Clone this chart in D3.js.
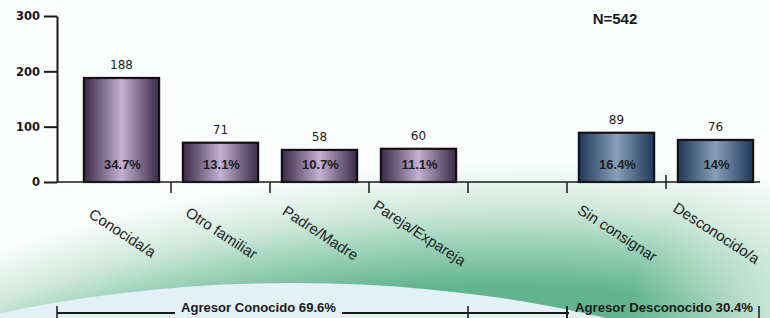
<!DOCTYPE html>
<html lang="es">
<head>
  <meta charset="UTF-8" />
  <title>Agresor</title>
  <script src="https://d3js.org/d3.v7.min.js"></script>
  <style>
    body { margin: 0; background: #fff; }
    svg { display: block; }
  </style>
</head>
<body>
<script type="text/javascript">

var categories = ["Conocida/a", "Otro familiar", "Padre/Madre", "Pareja/Expareja", "", "Sin consignar", "Desconocido/a"];
var counts = [188, 71, 58, 60, null, 89, 76];
var percents = ["34.7%", "13.1%", "10.7%", "11.1%", null, "16.4%", "14%"];
var groups = ["conocido", "conocido", "conocido", "conocido", null, "desconocido", "desconocido"];
var yTicks = [0, 100, 200, 300];
var totalLabel = "N=542";
var bracketLabels = ["Agresor Conocido 69.6%", "Agresor Desconocido 30.4%"];

var width = 770, height = 318;

var svg = d3.select("body").append("svg").attr("width", width).attr("height", height);
var defs = svg.append("defs");

// fondo: curva verde + arco celeste
var gGreen = defs.append("radialGradient").attr("id", "greenR")
  .attr("gradientUnits", "userSpaceOnUse")
  .attr("cx", 0).attr("cy", 0).attr("r", 1)
  .attr("gradientTransform", "translate(390,640) rotate(-7) scale(900,470)");
[[0, "#5aae8a"], [0.74, "#62b490"], [0.8, "#89c8ab"], [0.855, "#addac5"], [0.895, "#cbe6d9"], [0.95, "#e6f3ed"], [1, "#fbfdfc"]].forEach(function(s) {
  gGreen.append("stop").attr("offset", s[0]).attr("stop-color", s[1]);
});
var gFade = defs.append("radialGradient").attr("id", "fadeR")
  .attr("gradientUnits", "userSpaceOnUse")
  .attr("cx", 800).attr("cy", 335).attr("r", 175);
gFade.append("stop").attr("offset", 0).attr("stop-color", "#fff").attr("stop-opacity", 0.8);
gFade.append("stop").attr("offset", 1).attr("stop-color", "#fff").attr("stop-opacity", 0);

svg.append("rect").attr("width", width).attr("height", height).attr("fill", "url(#greenR)");
svg.append("rect").attr("width", width).attr("height", height).attr("fill", "url(#fadeR)");
svg.append("ellipse")
  .attr("cx", 293).attr("cy", 615).attr("rx", 700).attr("ry", 332)
  .attr("fill", "#e3f1f6");

// gradientes de barras
function barGradient(id, dark, light) {
  var g = defs.append("linearGradient").attr("id", id).attr("x1", 0).attr("x2", 1).attr("y1", 0).attr("y2", 0);
  g.append("stop").attr("offset", 0).attr("stop-color", dark);
  g.append("stop").attr("offset", 0.5).attr("stop-color", light);
  g.append("stop").attr("offset", 1).attr("stop-color", dark);
}
barGradient("conocido", "#3b2947", "#c3b0d3");
barGradient("desconocido", "#1f3858", "#889fbb");

var x = d3.scaleBand().domain(categories).range([72, 765]).paddingInner(0.24).paddingOuter(0.12);
var y = d3.scaleLinear().domain([0, 300]).range([182, 16]);
var step = x.step();
var boundary = function(i) { return x(categories[i]) - step * x.paddingInner() / 2; };

var idx = d3.range(categories.length).filter(function(i) { return counts[i] != null; });

// barras
svg.selectAll("rect.bar").data(idx).enter().append("rect")
  .attr("class", "bar")
  .attr("x", function(i) { return x(categories[i]); })
  .attr("y", function(i) { return y(counts[i]); })
  .attr("width", x.bandwidth())
  .attr("height", function(i) { return y(0) - y(counts[i]); })
  .attr("fill", function(i) { return "url(#" + groups[i] + ")"; })
  .attr("stroke", "#121212").attr("stroke-width", 2.2);

svg.selectAll("text.val").data(idx).enter().append("text")
  .attr("x", function(i) { return x(categories[i]) + x.bandwidth() / 2; })
  .attr("y", function(i) { return y(counts[i]) - 9; })
  .attr("text-anchor", "middle")
  .style("font", "12px 'DejaVu Sans'").attr("fill", "#222")
  .text(function(i) { return counts[i]; });

svg.selectAll("text.pct").data(idx).enter().append("text")
  .attr("x", function(i) { return x(categories[i]) + x.bandwidth() / 2 + 1; })
  .attr("y", y(0) - 13)
  .attr("text-anchor", "middle")
  .style("font", "bold 13px 'Liberation Sans'").attr("fill", "#1e1e1e")
  .text(function(i) { return percents[i]; });

// ejes
var yAxis = svg.append("g").attr("transform", "translate(57,0)")
  .call(d3.axisLeft(y).tickValues(yTicks).tickSize(13).tickPadding(4).tickSizeOuter(0));
yAxis.select(".domain").attr("stroke", "#1a1a1a").attr("stroke-width", 2);
yAxis.selectAll(".tick line").attr("stroke", "#1a1a1a").attr("stroke-width", 2);
yAxis.selectAll(".tick text").style("font", "bold 11.5px 'DejaVu Sans'").attr("fill", "#1a1a1a");

svg.append("line").attr("x1", 57).attr("x2", 760).attr("y1", y(0)).attr("y2", y(0))
  .attr("stroke", "#1a1a1a").attr("stroke-width", 1.5);

svg.selectAll("line.xtick").data(d3.range(1, categories.length)).enter().append("line")
  .attr("x1", boundary).attr("x2", boundary)
  .attr("y1", function(i) { return i === categories.length - 1 ? y(0) - 7 : y(0); })
  .attr("y2", function(i) { return i === categories.length - 1 ? y(0) + 7 : y(0) + 11; })
  .attr("stroke", "#1a1a1a").attr("stroke-width", 1.5);

svg.selectAll("text.cat").data(d3.range(categories.length)).enter().append("text")
  .attr("transform", function(i) { return "translate(" + (x(categories[i]) + x.bandwidth() / 2 + 1) + ",233) rotate(33)"; })
  .attr("text-anchor", "middle").attr("dy", "0.35em")
  .style("font", "15px 'Liberation Sans'").attr("fill", "#222")
  .text(function(i) { return categories[i]; });

svg.append("text").attr("x", 615).attr("y", 24).attr("text-anchor", "middle")
  .style("font", "bold 15px 'Liberation Sans'").attr("fill", "#1a1a1a")
  .text(totalLabel);

// llaves de grupos
var by = 313;
var spans = [[57, boundary(5), (57 + boundary(4)) / 2 - 4], [boundary(5), 759, (boundary(5) + 759) / 2 + 1]];
spans.forEach(function(s, k) {
  var t = svg.append("text").attr("x", s[2]).attr("y", by - 1).attr("text-anchor", "middle")
    .style("font", "bold 13px 'Liberation Sans'").attr("fill", "#1a1a1a")
    .attr("textLength", k === 0 ? 155 : 178).attr("lengthAdjust", "spacingAndGlyphs")
    .text(bracketLabels[k]);
  var w = t.node().getComputedTextLength();
  var a = s[2] - w / 2 - 6, b = s[2] + w / 2 + 6;
  if (a > s[0]) svg.append("line").attr("x1", s[0]).attr("x2", a).attr("y1", by).attr("y2", by).attr("stroke", "#1a1a1a").attr("stroke-width", 2);
  if (b < s[1]) svg.append("line").attr("x1", b).attr("x2", s[1]).attr("y1", by).attr("y2", by).attr("stroke", "#1a1a1a").attr("stroke-width", 2);
  svg.append("line").attr("x1", s[0]).attr("x2", s[0]).attr("y1", by - 7).attr("y2", height).attr("stroke", "#1a1a1a").attr("stroke-width", 1.5);
  svg.append("line").attr("x1", s[1]).attr("x2", s[1]).attr("y1", by - 7).attr("y2", height).attr("stroke", "#1a1a1a").attr("stroke-width", 1.5);
});
svg.append("line").attr("x1", boundary(4)).attr("x2", boundary(4)).attr("y1", by - 7).attr("y2", height)
  .attr("stroke", "#1a1a1a").attr("stroke-width", 1.5);

</script>
</body>
</html>
